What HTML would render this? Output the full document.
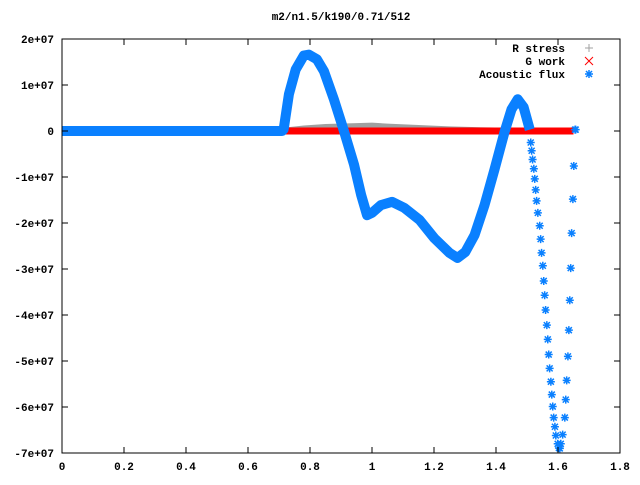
<!DOCTYPE html>
<html><head><meta charset="utf-8"><style>
body{margin:0;background:#fff}
svg text{font-family:"Liberation Mono",monospace;font-size:11px;font-weight:bold;fill:#000}
</style></head><body>
<svg width="640" height="480" xmlns="http://www.w3.org/2000/svg" id="s">
<rect x="0" y="0" width="640" height="480" fill="#fff"/>
<g id="marks"></g>
<rect x="62" y="39" width="558" height="414" fill="none" stroke="#000" stroke-width="1"/>
<g id="axes"></g>
<text x="341" y="20" text-anchor="middle">m2/n1.5/k190/0.71/512</text>
<g>
<text x="565" y="52" text-anchor="end">R stress</text>
<text x="565" y="65" text-anchor="end">G work</text>
<text x="565" y="78" text-anchor="end">Acoustic flux</text>
<path d="M585,48h8M589,44v8" stroke="#a0a0a0" stroke-width="1"/>
<path d="M585,57l8,8M593,57l-8,8" stroke="#ff0000" stroke-width="1"/>
<path d="M585,74h8M589,70v8M586,71l6,6M592,71l-6,6" stroke="#0a80ff" stroke-width="1.5"/>
</g>
</svg>
<script>
const xTicks=[0,0.2,0.4,0.6,0.8,1,1.2,1.4,1.6,1.8];
const xTickLabels=["0","0.2","0.4","0.6","0.8","1","1.2","1.4","1.6","1.8"];
const yTicks=[2e7,1e7,0,-1e7,-2e7,-3e7,-4e7,-5e7,-6e7,-7e7];
const yTickLabels=["2e+07","1e+07","0","-1e+07","-2e+07","-3e+07","-4e+07","-5e+07","-6e+07","-7e+07"];
// R stress (units 1e6)
const rsX=[0.715,0.78,0.85,0.95,1.0,1.05,1.15,1.25,1.35,1.45,1.46];
const rsY=[0.6,1.1,1.4,1.6,1.7,1.5,1.2,0.9,0.7,0.6,0];
// G work
const gwX=[0.715,1.65];
const gwY=[0,0];
// Acoustic flux dense part (units 1e6)
const fxX=[0,0.71,0.715,0.732,0.754,0.780,0.796,0.822,0.845,0.877,0.910,0.942,0.965,0.984,1.000,1.029,1.065,1.104,1.153,1.201,1.250,1.276,1.301,1.331,1.363,1.395,1.428,1.450,1.470,1.489,1.509];
const fxY=[0,0,0.35,8.0,13.4,16.4,16.6,15.6,13.0,6.9,-0.1,-7.3,-13.9,-18.3,-17.8,-16.1,-15.4,-16.7,-19.3,-23.3,-26.5,-27.6,-26.3,-22.6,-16.1,-8.4,-0.1,4.7,6.9,5.2,0.3];
// Acoustic flux sparse tail (units 1e6)
const ftX=[1.512,1.515,1.518,1.522,1.525,1.528,1.531,1.535,1.541,1.544,1.547,1.551,1.554,1.557,1.560,1.564,1.567,1.570,1.573,1.577,1.580,1.583,1.586,1.590,1.593,1.599,1.603,1.606,1.609,1.615,1.622,1.625,1.628,1.632,1.635,1.638,1.641,1.644,1.648,1.651,1.655,1.657];
const ftY=[-2.5,-4.3,-6.2,-8.2,-10.4,-12.8,-15.2,-17.8,-20.6,-23.5,-26.5,-29.3,-32.6,-35.7,-38.9,-42.2,-45.3,-48.6,-51.6,-54.5,-57.3,-59.9,-62.3,-64.3,-66.2,-68.0,-68.9,-69.0,-68.0,-66.0,-62.3,-58.4,-54.2,-49.0,-43.3,-36.8,-29.8,-22.2,-14.8,-7.6,0.3,0.3];

const L=62,R=620,T=39,B=453;
const sx=v=>L+(v-0)/(1.8-0)*(R-L);
const sy=v=>T+(2e7-v)/(9e7)*(B-T);
const NS="http://www.w3.org/2000/svg";
const marks=document.getElementById('marks'),axes=document.getElementById('axes');
function mk(t,a,p){const e=document.createElementNS(NS,t);for(const k in a)e.setAttribute(k,a[k]);p.appendChild(e);return e;}

xTicks.forEach((v,i)=>{
 const x=sx(v);
 const t=mk('path',{d:`M${x},${B}v-6M${x},${T}v6`,stroke:'#000'},axes);
 
 
 const l=mk('text',{x:x,y:B+17,'text-anchor':'middle'},axes);l.textContent=xTickLabels[i];
 
 
});
yTicks.forEach((v,i)=>{
 const y=sy(v);
 const t=mk('path',{d:`M${L},${y}h6M${R},${y}h-6`,stroke:'#000'},axes);
 
 
 const l=mk('text',{x:L-8,y:y+4,'text-anchor':'end'},axes);l.textContent=yTickLabels[i];
 
 
});

let d=`M${sx(rsX[0])},${sy(0)}`;
rsX.forEach((x,i)=>{d+=`L${sx(x)},${sy(rsY[i]*1e6)}`;});
d+=`L${sx(rsX[rsX.length-1])},${sy(0)}Z`;
const rs=mk('path',{d:d,fill:'#a0a0a0',stroke:'#a0a0a0'},marks);



const gw=mk('path',{d:`M${sx(gwX[0])},${sy(gwY[0])}L${sx(gwX[1])},${sy(gwY[1])}`,stroke:'#ff0000','stroke-width':7},marks);



const pts=fxX.map((x,i)=>`${sx(x)},${sy(fxY[i]*1e6)}`).join(' ');
const fl=mk('polyline',{points:pts,fill:'none',stroke:'#0a80ff','stroke-width':10,'stroke-linejoin':'round'},marks);


function star(x,y){
 const s=mk('path',{d:`M${x-4},${y}h8M${x},${y-4}v8M${x-3},${y-3}l6,6M${x+3},${y-3}l-6,6`,stroke:'#0a80ff','stroke-width':1.5},marks);
 
 
}
ftX.forEach((x,i)=>star(sx(x),sy(ftY[i]*1e6)));
</script>
</body></html>
